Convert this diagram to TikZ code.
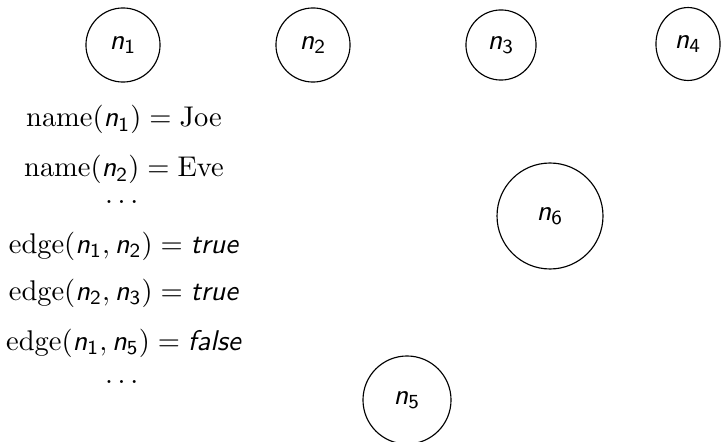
\documentclass[tikz,border=0pt]{standalone}
\usepackage{amsmath}
\usepackage{tikz}
\usetikzlibrary{shapes.geometric}
\tikzset{
  var/.style={draw, thin, circle, inner sep=0pt, minimum size=26pt},
  fact/.style={anchor=base},
}
\newcommand{\nv}[1]{\textsf{\textit{n}}_{\textsf{#1}}}
\newcommand{\bv}[1]{\textsf{\textit{#1}}}
\newcommand{\eqs}{\mathrel{\textsf{=}}}

\begin{document}
\begin{tikzpicture}[x=0.351pt,y=-0.351pt]
  \useasboundingbox (0,0) rectangle (724,441);
  % random variables
  \node[var] (n1) at (123,45) {$\nv{1}$};
  \node[var] (n2) at (313,45) {$\nv{2}$};
  \node[var, minimum size=24.6pt] (n3) at (501,45) {$\nv{3}$};
  \node[var, ellipse, minimum width=22.5pt, minimum height=25.6pt] (n4) at (688,44) {$\nv{4}$};
  \node[var, minimum size=37.2pt] (n6) at (550,216) {$\nv{6}$};
  \node[var, minimum size=30.9pt] (n5) at (407,400) {$\nv{5}$};
  % a possible world
  \node[fact] (name1) at (124,127) {$\mathrm{name}(\nv{1}) \eqs \mathrm{Joe}$};
  \node[fact] (name2) at (124,177) {$\mathrm{name}(\nv{2}) \eqs \mathrm{Eve}$};
  \node[fact] (dots1) at (124,204) {$\dots$};
  \node[fact] (edge1) at (124,253) {$\mathrm{edge}(\nv{1}, \nv{2}) \eqs \bv{true}$};
  \node[fact] (edge2) at (124,300) {$\mathrm{edge}(\nv{2}, \nv{3}) \eqs \bv{true}$};
  \node[fact] (edge3) at (124,350) {$\mathrm{edge}(\nv{1}, \nv{5}) \eqs \bv{false}$};
  \node[fact] (dots2) at (124,383) {$\dots$};
\end{tikzpicture}
\end{document}
